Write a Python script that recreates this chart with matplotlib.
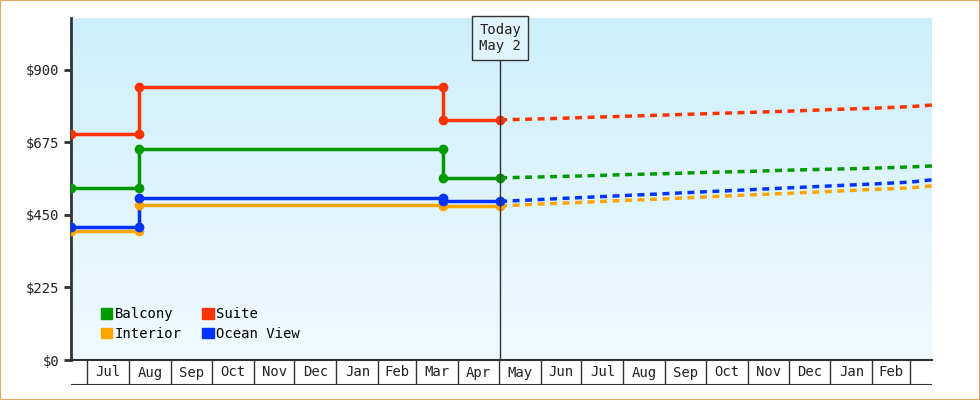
import matplotlib
matplotlib.use("Agg")
import matplotlib.pyplot as plt
import matplotlib.dates as mdates
import numpy as np
from datetime import date

plt.rcParams['font.family'] = ['DejaVu Sans Mono']

hist_dates = [date(2024, 6, 19), date(2024, 8, 8), date(2025, 3, 21), date(2025, 5, 2)]
balcony_hist = [535, 655, 565]
suite_hist = [700, 848, 745]
interior_hist = [400, 482, 478]
ocean_hist = [412, 502, 492]

proj_dates = [date(2025, 5, 2), date(2025, 6, 1), date(2025, 7, 1), date(2025, 8, 1), date(2025, 9, 1),
              date(2025, 10, 1), date(2025, 11, 1), date(2025, 12, 1), date(2026, 1, 1), date(2026, 2, 1),
              date(2026, 3, 1), date(2026, 3, 17)]
balcony_proj = [565, 568, 571, 575, 578, 582, 585, 589, 592, 595, 599, 602]
suite_proj = [745, 748, 752, 756, 760, 764, 768, 772, 777, 781, 786, 791]
interior_proj = [478, 484, 489, 495, 500, 506, 512, 517, 523, 529, 534, 540]
ocean_proj = [492, 498, 504, 510, 516, 522, 528, 534, 540, 546, 552, 559]

month_labels = ['Jul', 'Aug', 'Sep', 'Oct', 'Nov', 'Dec', 'Jan', 'Feb', 'Mar', 'Apr', 'May', 'Jun',
                'Jul', 'Aug', 'Sep', 'Oct', 'Nov', 'Dec', 'Jan', 'Feb']
yticks = [0, 225, 450, 675, 900]
today = date(2025, 5, 2)

series = [
    ('Balcony', '#009900', balcony_hist, balcony_proj),
    ('Interior', '#ffa500', interior_hist, interior_proj),
    ('Suite', '#ff3300', suite_hist, suite_proj),
    ('Ocean View', '#0033ff', ocean_hist, ocean_proj),
]

fig = plt.figure(figsize=(9.8, 4), dpi=100)
fig.patch.set_facecolor('white')
fig.patches.append(plt.Rectangle((0.0005, 0.001), 0.999, 0.998, transform=fig.transFigure,
                                 fill=False, edgecolor='#e8a860', linewidth=1.5))
ax = fig.add_axes([71/980, 40/400, 861/980, 342/400])
xmin = mdates.date2num(date(2024, 6, 19))
xmax = mdates.date2num(date(2026, 3, 17))
ymax = 1061
ax.set_xlim(xmin, xmax)
ax.set_ylim(0, ymax)

grad = np.linspace(0, 1, 256).reshape(-1, 1)
cmap = matplotlib.colors.LinearSegmentedColormap.from_list('bg', ['#f0fafe', '#cdeffc'])
ax.imshow(grad, aspect='auto', cmap=cmap, origin='lower', extent=[xmin, xmax, 0, ymax], zorder=0)

hx = mdates.date2num(hist_dates)
px = mdates.date2num(proj_dates)
order = [('Suite', 2), ('Balcony', 0), ('Interior', 1), ('Ocean View', 3)]
for name, i in order:
    _, c, h, p = series[i]
    xs = [hx[0], hx[1], hx[1], hx[2], hx[2], hx[3]]
    ys = [h[0], h[0], h[1], h[1], h[2], h[2]]
    ax.plot(xs, ys, color=c, lw=2.5, zorder=3)
    ax.plot(xs, ys, 'o', color=c, ms=6, zorder=4)
    ax.plot(px, p, color=c, lw=2.5, ls=(0, (2, 1.6)), zorder=3)

tx = mdates.date2num(today)
ax.axvline(tx, ymax=(ymax - 1000) / ymax * 0 + 0.885, color='#333333', lw=1, zorder=5)
ax.text(tx, 1000, 'Today\nMay 2', ha='center', va='center', fontsize=10, color='#222222', zorder=6,
        bbox=dict(boxstyle='square,pad=0.5', fc='#e0f4fc', ec='#333333', lw=1))

ax.set_yticks(yticks)
ax.set_yticklabels([f'${v}' for v in yticks], fontsize=10, color='#222222')
ax.tick_params(axis='y', length=5, width=2, color='#333333')
ax.set_xticks([])
for s in ['top', 'right']:
    ax.spines[s].set_visible(False)
ax.spines['left'].set_linewidth(2)
ax.spines['left'].set_color('#333333')
ax.spines['bottom'].set_linewidth(1.5)
ax.spines['bottom'].set_color('#333333')

handles = [plt.Rectangle((0, 0), 1, 1, color=c) for _, c, _, _ in series]
leg = ax.legend(handles, [s[0] for s in series], ncol=2, loc='lower left', bbox_to_anchor=(0.02, 0.02),
                frameon=False, fontsize=10, handlelength=0.8, handleheight=0.8, handletextpad=0.2,
                columnspacing=1.5, labelspacing=0.4)

tab = fig.add_axes([71/980, 15/400, 861/980, 25/400])
tab.set_xlim(xmin, xmax)
tab.set_ylim(0, 1)
tab.axis('off')
tab.axhline(0, color='#333333', lw=1.5)
y0, m0 = 2024, 7
for k, lab in enumerate(month_labels):
    y = y0 + (m0 - 1 + k) // 12
    m = (m0 - 1 + k) % 12 + 1
    ny = y0 + (m0 + k) // 12
    nm = (m0 + k) % 12 + 1
    a = mdates.date2num(date(y, m, 1))
    b = mdates.date2num(date(ny, nm, 1))
    tab.plot([a, a], [0, 1], color='#333333', lw=1)
    tab.text((a + min(b, xmax)) / 2, 0.5, lab, ha='center', va='center', fontsize=10, color='#222222')
b = mdates.date2num(date(2026, 3, 1))
tab.plot([b, b], [0, 1], color='#333333', lw=1)

fig.savefig('out.png', dpi=100)
